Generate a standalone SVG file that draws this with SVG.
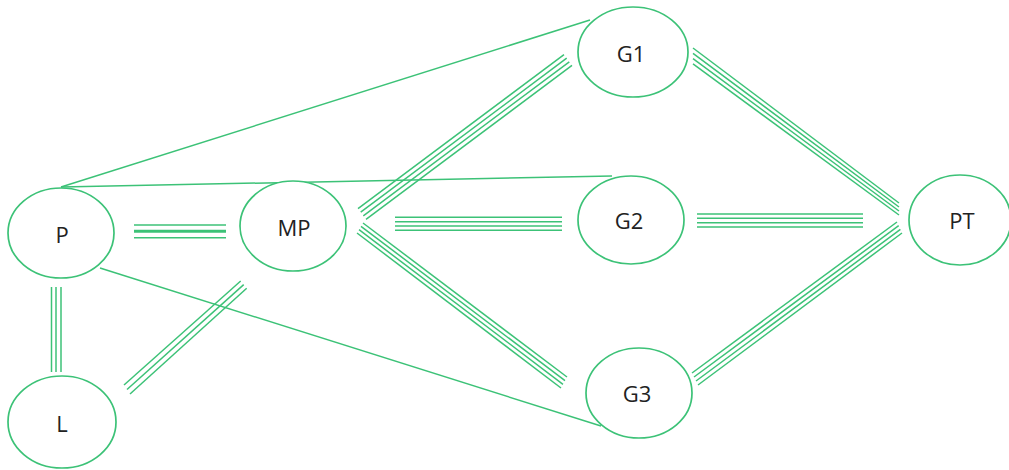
<svg xmlns="http://www.w3.org/2000/svg" width="1009" height="470" viewBox="0 0 1009 470">
<style>
.n{fill:#fff;stroke:#3cc277;stroke-width:1.7}
.t{font-family:"Open Sans","Liberation Sans",sans-serif;font-size:22px;fill:#222;text-anchor:middle;dominant-baseline:central}
.c line{stroke:#3cc277;stroke-width:1.5;fill:none}
</style>
<rect width="1009" height="470" fill="#fff"/>
<g id="connectors" class="c">
<line x1="61" y1="187" x2="590" y2="20"/>
<line x1="61" y1="187" x2="612" y2="176"/>
<line x1="100" y1="268" x2="601" y2="426"/>
<line x1="134" y1="225" x2="226" y2="225"/>
<line x1="134" y1="231.3" x2="226" y2="231.3" style="stroke-width:3"/>
<line x1="134" y1="237.7" x2="226" y2="237.7"/>
<line x1="51.5" y1="287" x2="51.5" y2="372"/>
<line x1="56" y1="287" x2="56" y2="372"/>
<line x1="61" y1="287" x2="61" y2="372"/>
<line x1="124" y1="385" x2="240.7" y2="281"/>
<line x1="127" y1="389.5" x2="243.7" y2="284.6"/>
<line x1="130" y1="394" x2="246.7" y2="288.3"/>
<line x1="358" y1="208.6" x2="564" y2="54.6"/>
<line x1="360.7" y1="212.2" x2="566.7" y2="58.2"/>
<line x1="363.3" y1="215.8" x2="569.3" y2="61.8"/>
<line x1="366" y1="219.4" x2="572" y2="65.4"/>
<line x1="395" y1="217.3" x2="562" y2="217.3"/>
<line x1="395" y1="221.7" x2="562" y2="221.7"/>
<line x1="395" y1="226" x2="562" y2="226"/>
<line x1="395" y1="230.3" x2="562" y2="230.3"/>
<line x1="363" y1="223" x2="567" y2="377"/>
<line x1="361" y1="226.3" x2="565" y2="380.7"/>
<line x1="359" y1="229.7" x2="563" y2="384.3"/>
<line x1="357" y1="233" x2="561" y2="388"/>
<line x1="693" y1="48" x2="899" y2="203"/>
<line x1="693" y1="53.3" x2="899" y2="207"/>
<line x1="693" y1="58.6" x2="899" y2="211"/>
<line x1="693" y1="63.9" x2="899" y2="215"/>
<line x1="697" y1="214" x2="863" y2="214"/>
<line x1="697" y1="218.3" x2="863" y2="218.3"/>
<line x1="697" y1="222.7" x2="863" y2="222.7"/>
<line x1="697" y1="227" x2="863" y2="227"/>
<line x1="692" y1="373" x2="897" y2="222"/>
<line x1="694" y1="377" x2="898.7" y2="225.7"/>
<line x1="696" y1="381" x2="900.4" y2="229.4"/>
<line x1="698" y1="385" x2="902" y2="233"/>
</g>
<g id="node-P"><ellipse class="n" cx="61" cy="233" rx="53" ry="45"/><text class="t" x="62" y="234">P</text></g>
<g id="node-MP"><ellipse class="n" cx="293" cy="226" rx="53" ry="45"/><text class="t" x="294" y="227">MP</text></g>
<g id="node-L"><ellipse class="n" cx="62" cy="422" rx="54" ry="46"/><text class="t" x="62" y="423">L</text></g>
<g id="node-G1"><ellipse class="n" cx="633" cy="52" rx="55" ry="45"/><text class="t" x="631" y="53">G1</text></g>
<g id="node-G2"><ellipse class="n" cx="631" cy="220" rx="53" ry="44"/><text class="t" x="629" y="220">G2</text></g>
<g id="node-G3"><ellipse class="n" cx="639" cy="393" rx="53" ry="45"/><text class="t" x="637" y="393">G3</text></g>
<g id="node-PT"><ellipse class="n" cx="960" cy="220" rx="51" ry="45"/><text class="t" x="962" y="220">PT</text></g>
</svg>
